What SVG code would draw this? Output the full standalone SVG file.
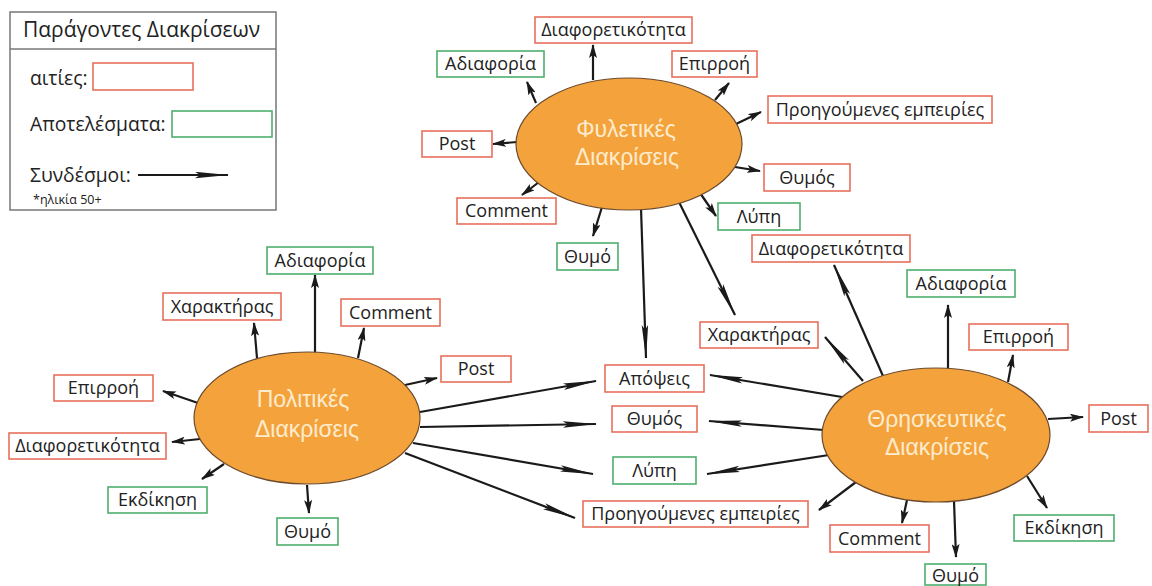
<svg xmlns="http://www.w3.org/2000/svg" width="1152" height="586" viewBox="0 0 1152 586">
<defs>
<style>
text{font-family:"Open Sans","Noto Sans","Liberation Sans",sans-serif;fill:#222;}
.lbl{font-size:18px;text-anchor:middle;}
.c{fill:#fff;stroke:#e8705c;stroke-width:1.6;}
.e{fill:#fff;stroke:#4fae6e;stroke-width:1.6;}
.ell{fill:#f4a23c;stroke:#6b4b2c;stroke-width:1.2;}
.et{font-family:"Liberation Sans","Open Sans",sans-serif;font-size:23px;fill:#fdeccd;text-anchor:middle;}
.s{stroke:#1a1a1a;stroke-width:2.2;fill:none;marker-end:url(#ms);}
.l{stroke:#1a1a1a;stroke-width:2.2;fill:none;marker-end:url(#ml);}
.leg{font-size:19.3px;}
</style>
<marker id="ms" viewBox="0 0 14 8" markerWidth="14" markerHeight="8" refX="13" refY="4" orient="auto" markerUnits="userSpaceOnUse"><path d="M0,0 L14,4 L0,8 L3,4 Z" fill="#1a1a1a"/></marker>
<marker id="ml" viewBox="0 0 34 7" markerWidth="34" markerHeight="7" refX="33" refY="3.5" orient="auto" markerUnits="userSpaceOnUse"><path d="M0,0.3 L34,3.5 L0,6.7 L5,3.5 Z" fill="#1a1a1a"/></marker>
</defs>
<rect width="1152" height="586" fill="#fff"/>

<g id="legend">
<rect x="10" y="12" width="266" height="198" fill="#fff" stroke="#777" stroke-width="1.5"/>
<line x1="10" y1="49" x2="276" y2="49" stroke="#777" stroke-width="1.5"/>
<text class="leg" x="23" y="37" style="font-size:21px">Παράγοντες Διακρίσεων</text>
<text class="leg" x="30" y="85">αιτίες:</text>
<rect class="c" x="93" y="63" width="100" height="27"/>
<text class="leg" x="30" y="131">Αποτελέσματα:</text>
<rect class="e" x="172" y="111" width="100" height="26"/>
<text class="leg" x="30" y="182">Συνδέσμοι:</text>
<line class="l" x1="138" y1="175" x2="228" y2="175"/>
<text x="33" y="204" style="font-size:12.5px">*ηλικία 50+</text>
</g>

<g id="connectors">
<!-- Φυλετικές -->
<line class="s" x1="593" y1="80" x2="593" y2="45"/>
<line class="s" x1="536" y1="103" x2="527" y2="82"/>
<line class="s" x1="715" y1="100" x2="729" y2="83"/>
<line class="s" x1="736" y1="124" x2="761" y2="112"/>
<line class="s" x1="735" y1="167" x2="760" y2="171"/>
<line class="s" x1="700" y1="193" x2="716" y2="216"/>
<line class="s" x1="517" y1="142" x2="493" y2="144"/>
<line class="s" x1="539" y1="182" x2="522" y2="195"/>
<line class="s" x1="602" y1="207" x2="593" y2="236"/>
<line class="l" x1="641" y1="208" x2="646" y2="358"/>
<line class="l" x1="678" y1="200" x2="735" y2="315"/>
<!-- Πολιτικές -->
<line class="s" x1="315" y1="353" x2="315" y2="275"/>
<line class="s" x1="257" y1="358" x2="254" y2="323"/>
<line class="s" x1="358" y1="358" x2="364" y2="328"/>
<line class="s" x1="405" y1="385" x2="437" y2="378"/>
<line class="s" x1="198" y1="403" x2="163" y2="391"/>
<line class="s" x1="200" y1="439" x2="172" y2="442"/>
<line class="s" x1="224" y1="464" x2="202" y2="479"/>
<line class="s" x1="307" y1="485" x2="309" y2="513"/>
<line class="l" x1="420" y1="412" x2="596" y2="381"/>
<line class="l" x1="420" y1="427" x2="596" y2="424"/>
<line class="l" x1="413" y1="443" x2="593" y2="474"/>
<line class="l" x1="405" y1="453" x2="575" y2="518"/>
<!-- Θρησκευτικές -->
<line class="s" x1="948" y1="369" x2="948" y2="305"/>
<line class="s" x1="1008" y1="382" x2="1013" y2="355"/>
<line class="s" x1="1048" y1="419" x2="1083" y2="417"/>
<line class="s" x1="907" y1="500" x2="902" y2="523"/>
<line class="s" x1="954" y1="501" x2="956" y2="557"/>
<line class="s" x1="1027" y1="476" x2="1047" y2="508"/>
<line class="s" x1="856" y1="482" x2="819" y2="510"/>
<line class="l" x1="848" y1="398" x2="710" y2="375"/>
<line class="l" x1="824" y1="430" x2="709" y2="421"/>
<line class="l" x1="829" y1="455" x2="707" y2="474"/>
<line class="l" x1="863" y1="381" x2="825" y2="337"/>
<line class="l" x1="883" y1="376" x2="834" y2="265"/>
</g>

<g id="n-fyletikes"><ellipse class="ell" cx="629" cy="144" rx="113" ry="66"/><text class="et" x="626" y="137">Φυλετικές</text><text class="et" x="627" y="165">Διακρίσεις</text></g>
<g id="n-politikes"><ellipse class="ell" cx="307" cy="418" rx="113" ry="66"/><text class="et" x="303" y="407">Πολιτικές</text><text class="et" x="307" y="437">Διακρίσεις</text></g>
<g id="n-thriskeftikes"><ellipse class="ell" cx="936" cy="435" rx="114" ry="67"/><text class="et" x="937" y="427">Θρησκευτικές</text><text class="et" x="937" y="455">Διακρίσεις</text></g>

<!-- Φυλετικές boxes -->
<g id="f-diaf"><rect class="c" x="535" y="17" width="157" height="26"/><text class="lbl" x="613.5" y="36">Διαφορετικότητα</text></g>
<g id="f-adiaf"><rect class="e" x="437" y="51" width="107" height="26"/><text class="lbl" x="490.5" y="70">Αδιαφορία</text></g>
<g id="f-epir"><rect class="c" x="672" y="51" width="85" height="26"/><text class="lbl" x="714.5" y="70">Επιρροή</text></g>
<g id="f-proig"><rect class="c" x="768" y="96" width="224" height="27"/><text class="lbl" x="880" y="115.5">Προηγούμενες εμπειρίες</text></g>
<g id="f-thymos"><rect class="c" x="764" y="164" width="86" height="27"/><text class="lbl" x="807" y="183.5">Θυμός</text></g>
<g id="f-lypi"><rect class="e" x="718" y="203" width="82" height="27"/><text class="lbl" x="759" y="222.5">Λύπη</text></g>
<g id="f-post"><rect class="c" x="422" y="131" width="70" height="26"/><text class="lbl" x="457" y="150">Post</text></g>
<g id="f-comment"><rect class="c" x="457" y="198" width="99" height="26"/><text class="lbl" x="506.5" y="217">Comment</text></g>
<g id="f-thymo"><rect class="e" x="557" y="243" width="61" height="27"/><text class="lbl" x="587.5" y="262.5">Θυμό</text></g>

<!-- Πολιτικές boxes -->
<g id="p-adiaf"><rect class="e" x="267" y="247" width="106" height="27"/><text class="lbl" x="320" y="266.5">Αδιαφορία</text></g>
<g id="p-xarakt"><rect class="c" x="163" y="293" width="118" height="27"/><text class="lbl" x="222" y="312.5">Χαρακτήρας</text></g>
<g id="p-comment"><rect class="c" x="341" y="299" width="99" height="27"/><text class="lbl" x="390.5" y="318.5">Comment</text></g>
<g id="p-post"><rect class="c" x="441" y="356" width="70" height="26"/><text class="lbl" x="476" y="375">Post</text></g>
<g id="p-epir"><rect class="c" x="54" y="375" width="99" height="26"/><text class="lbl" x="103.5" y="394">Επιρροή</text></g>
<g id="p-diaf"><rect class="c" x="9" y="433" width="157" height="26"/><text class="lbl" x="87.5" y="452">Διαφορετικότητα</text></g>
<g id="p-ekdik"><rect class="e" x="108" y="487" width="99" height="26"/><text class="lbl" x="157.5" y="506">Εκδίκηση</text></g>
<g id="p-thymo"><rect class="e" x="277" y="518" width="61" height="27"/><text class="lbl" x="307.5" y="537.5">Θυμό</text></g>

<!-- Κοινά boxes -->
<g id="k-apopseis"><rect class="c" x="605" y="365" width="99" height="27"/><text class="lbl" x="654.5" y="384.5">Απόψεις</text></g>
<g id="k-thymos"><rect class="c" x="612" y="406" width="85" height="26"/><text class="lbl" x="654.5" y="425">Θυμός</text></g>
<g id="k-lypi"><rect class="e" x="613" y="457" width="83" height="27"/><text class="lbl" x="654.5" y="476.5">Λύπη</text></g>
<g id="k-proig"><rect class="c" x="583" y="501" width="225" height="26"/><text class="lbl" x="695.5" y="520">Προηγούμενες εμπειρίες</text></g>
<g id="k-xarakt"><rect class="c" x="700" y="322" width="118" height="26"/><text class="lbl" x="759" y="341">Χαρακτήρας</text></g>
<g id="k-diaf"><rect class="c" x="752" y="235" width="158" height="27"/><text class="lbl" x="831" y="254.5">Διαφορετικότητα</text></g>

<!-- Θρησκευτικές boxes -->
<g id="t-adiaf"><rect class="e" x="907" y="270" width="108" height="27"/><text class="lbl" x="961" y="289.5">Αδιαφορία</text></g>
<g id="t-epir"><rect class="c" x="969" y="324" width="99" height="26"/><text class="lbl" x="1018.5" y="343">Επιρροή</text></g>
<g id="t-post"><rect class="c" x="1089" y="405" width="59" height="27"/><text class="lbl" x="1118.5" y="424.5">Post</text></g>
<g id="t-comment"><rect class="c" x="830" y="525" width="99" height="27"/><text class="lbl" x="879.5" y="544.5">Comment</text></g>
<g id="t-thymo"><rect class="e" x="925" y="564" width="61" height="21"/><text class="lbl" x="955.5" y="582">Θυμό</text></g>
<g id="t-ekdik"><rect class="e" x="1014" y="515" width="100" height="26"/><text class="lbl" x="1064" y="534">Εκδίκηση</text></g>
</svg>
